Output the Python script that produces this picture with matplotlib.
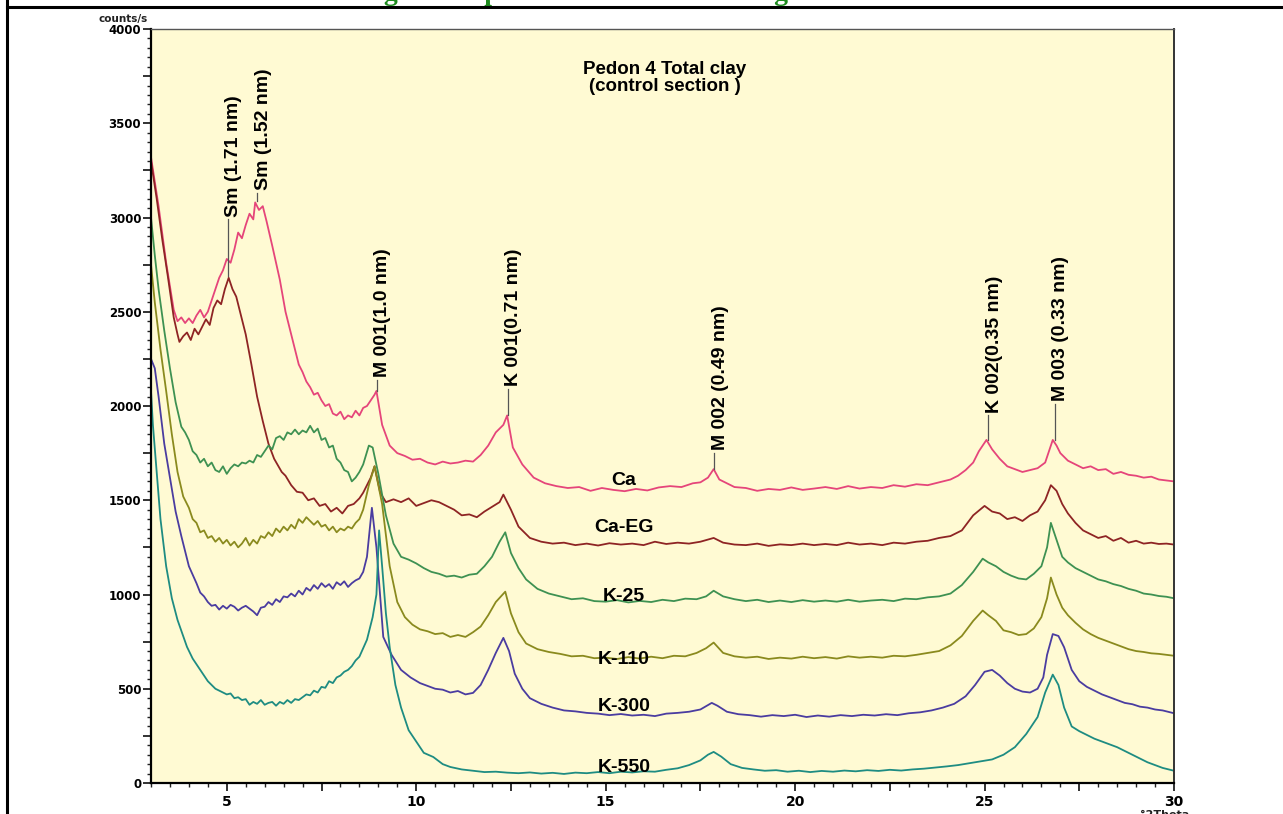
import numpy as np
import matplotlib
matplotlib.use("Agg")
import matplotlib.pyplot as plt
from matplotlib.ticker import MultipleLocator, FuncFormatter
from matplotlib.lines import Line2D

# two-theta (deg) / counts per second
ca_x = [3.0, 3.2, 3.4, 3.6, 3.7, 3.8, 3.9, 4.0, 4.1, 4.2, 4.3, 4.4, 4.5, 4.6, 4.7, 4.8, 4.9, 5.0, 5.1,
        5.2, 5.3, 5.4, 5.5, 5.6, 5.7, 5.75, 5.85, 5.95, 6.05, 6.2, 6.3, 6.4, 6.55, 6.7, 6.9, 7.0, 7.1,
        7.2, 7.3, 7.4, 7.5, 7.6, 7.7, 7.8, 7.9, 8.0, 8.1, 8.2, 8.3, 8.4, 8.5, 8.6, 8.7, 8.8, 8.9, 8.95,
        9.1, 9.3, 9.5, 9.7, 9.9, 10.1, 10.3, 10.5, 10.7, 10.9, 11.1, 11.3, 11.5, 11.7, 11.9, 12.1, 12.3,
        12.4, 12.55, 12.8, 13.1, 13.4, 13.7, 14.0, 14.3, 14.6, 14.9, 15.2, 15.5, 15.8, 16.1, 16.4, 16.7,
        17.0, 17.3, 17.5, 17.7, 17.85, 18.0, 18.2, 18.4, 18.7, 19.0, 19.3, 19.6, 19.9, 20.2, 20.5, 20.8,
        21.1, 21.4, 21.7, 22.0, 22.3, 22.6, 22.9, 23.2, 23.5, 23.8, 24.1, 24.3, 24.5, 24.7, 24.85, 25.05,
        25.2, 25.4, 25.6, 25.8, 26.0, 26.2, 26.4, 26.6, 26.7, 26.8, 26.9, 27.0, 27.2, 27.4, 27.6, 27.8,
        28.0, 28.2, 28.4, 28.6, 28.8, 29.0, 29.2, 29.4, 29.6, 29.8, 30.0]
ca_y = [3320, 3060, 2760, 2510, 2450, 2470, 2440, 2465, 2440, 2480, 2510, 2470, 2500, 2560, 2620, 2680,
        2720, 2780, 2760, 2830, 2920, 2890, 2960, 3020, 2990, 3080, 3040, 3060, 2980, 2850, 2760, 2670,
        2500, 2380, 2220, 2180, 2130, 2100, 2060, 2070, 2030, 2000, 2010, 1960, 1950, 1970, 1930, 1950,
        1940, 1975, 1950, 1990, 2000, 2030, 2060, 2080, 1900, 1790, 1750, 1735, 1715, 1720, 1700, 1690,
        1705, 1695, 1700, 1710, 1705, 1740, 1790, 1860, 1900, 1950, 1780, 1690, 1620, 1590, 1575, 1565,
        1570, 1550, 1565, 1555, 1548, 1560, 1552, 1568, 1575, 1570, 1590, 1595, 1620, 1665, 1610, 1590,
        1570, 1565, 1550, 1560, 1555, 1568, 1555, 1562, 1570, 1560, 1575, 1562, 1570, 1565, 1580, 1572,
        1585, 1580, 1595, 1610, 1630, 1660, 1700, 1760, 1820, 1770, 1720, 1680, 1665, 1650, 1660, 1670,
        1700, 1760, 1820, 1790, 1750, 1710, 1690, 1670, 1680, 1660, 1665, 1640, 1650, 1635, 1630, 1620,
        1625, 1610, 1605, 1600]

caeg_x = [3.0, 3.15, 3.3, 3.45, 3.6, 3.7, 3.75, 3.85, 3.95, 4.05, 4.15, 4.25, 4.35, 4.45, 4.55, 4.65, 4.75,
          4.85, 4.95, 5.05, 5.15, 5.25, 5.35, 5.5, 5.65, 5.8, 5.95, 6.1, 6.25, 6.45, 6.55, 6.7, 6.85, 7.0,
          7.15, 7.3, 7.45, 7.6, 7.75, 7.9, 8.05, 8.2, 8.35, 8.5, 8.6, 8.8, 8.9, 9.05, 9.2, 9.4, 9.6, 9.8,
          10.0, 10.2, 10.4, 10.6, 10.8, 11.0, 11.2, 11.4, 11.6, 11.8, 12.0, 12.2, 12.3, 12.5, 12.7, 13.0,
          13.3, 13.6, 13.9, 14.2, 14.5, 14.8, 15.1, 15.4, 15.7, 16.0, 16.3, 16.6, 16.9, 17.2, 17.5, 17.85,
          18.1, 18.4, 18.7, 19.0, 19.3, 19.6, 19.9, 20.2, 20.5, 20.8, 21.1, 21.4, 21.7, 22.0, 22.3, 22.6,
          22.9, 23.2, 23.5, 23.8, 24.1, 24.4, 24.7, 25.0, 25.2, 25.4, 25.6, 25.8, 26.0, 26.2, 26.4, 26.6,
          26.75, 26.9, 27.05, 27.2, 27.4, 27.6, 27.8, 28.0, 28.2, 28.4, 28.6, 28.8, 29.0, 29.2, 29.4, 29.6,
          29.8, 30.0]
caeg_y = [3300, 3100, 2880, 2680, 2470, 2380, 2340, 2370, 2390, 2350, 2410, 2380, 2420, 2460, 2430, 2520,
          2560, 2540, 2620, 2680, 2620, 2580, 2500, 2380, 2220, 2050, 1920, 1800, 1720, 1650, 1630, 1580,
          1545, 1540, 1500, 1510, 1470, 1480, 1440, 1460, 1430, 1470, 1480, 1510, 1540, 1620, 1680, 1540,
          1490, 1505, 1490, 1510, 1470, 1485, 1500, 1490, 1470, 1450, 1420, 1425, 1410, 1440, 1465, 1490,
          1530, 1450, 1360, 1300, 1280, 1270, 1275, 1262, 1270, 1260, 1272, 1265, 1270, 1262, 1280, 1268,
          1275, 1270, 1280, 1300, 1275, 1265, 1262, 1270, 1258, 1266, 1262, 1270, 1262, 1268, 1262, 1275,
          1265, 1270, 1262, 1275, 1270, 1280, 1285, 1300, 1310, 1340, 1420, 1470, 1440, 1430, 1400, 1410,
          1390, 1420, 1440, 1500, 1580, 1550, 1480, 1430, 1380, 1340, 1320, 1300, 1310, 1285, 1300, 1275,
          1285, 1270, 1275, 1268, 1270, 1265]

k25_x = [3.0, 3.1, 3.2, 3.35, 3.5, 3.65, 3.8, 3.9, 4.0, 4.1, 4.2, 4.3, 4.4, 4.5, 4.6, 4.7, 4.8, 4.9, 5.0,
         5.1, 5.2, 5.3, 5.4, 5.5, 5.6, 5.7, 5.8, 5.9, 6.0, 6.1, 6.2, 6.3, 6.4, 6.5, 6.6, 6.7, 6.8, 6.9,
         7.0, 7.1, 7.2, 7.3, 7.4, 7.5, 7.6, 7.7, 7.8, 7.9, 8.0, 8.1, 8.2, 8.3, 8.4, 8.5, 8.6, 8.75, 8.85,
         9.0, 9.2, 9.4, 9.6, 9.8, 10.0, 10.2, 10.4, 10.6, 10.8, 11.0, 11.2, 11.4, 11.6, 11.8, 12.0, 12.2,
         12.35, 12.5, 12.7, 12.9, 13.2, 13.5, 13.8, 14.1, 14.4, 14.7, 15.0, 15.3, 15.6, 15.9, 16.2, 16.5,
         16.8, 17.1, 17.4, 17.65, 17.85, 18.1, 18.4, 18.7, 19.0, 19.3, 19.6, 19.9, 20.2, 20.5, 20.8, 21.1,
         21.4, 21.7, 22.0, 22.3, 22.6, 22.9, 23.2, 23.5, 23.8, 24.1, 24.4, 24.7, 24.95, 25.1, 25.3, 25.5,
         25.7, 25.9, 26.1, 26.3, 26.5, 26.65, 26.75, 26.9, 27.05, 27.2, 27.4, 27.6, 27.8, 28.0, 28.2, 28.4,
         28.6, 28.8, 29.0, 29.2, 29.4, 29.6, 29.8, 30.0]
k25_y = [3000, 2800, 2620, 2400, 2200, 2020, 1890, 1860, 1820, 1760, 1740, 1700, 1720, 1680, 1700, 1660,
         1650, 1680, 1640, 1670, 1690, 1680, 1700, 1695, 1710, 1700, 1740, 1730, 1760, 1790, 1770, 1830,
         1840, 1820, 1860, 1850, 1875, 1850, 1870, 1860, 1895, 1860, 1880, 1820, 1830, 1780, 1790, 1720,
         1700, 1660, 1650, 1600, 1620, 1650, 1690, 1790, 1780, 1640, 1420, 1270, 1200, 1185, 1165, 1140,
         1120, 1110, 1095, 1100, 1090, 1105, 1110, 1150, 1200, 1280, 1330, 1220, 1140, 1080, 1030, 1005,
         990, 975, 980, 965, 962, 970, 958, 966, 960, 972, 965, 978, 975, 990, 1020, 990,
         975, 965, 972, 960, 968, 960, 970, 962, 968, 962, 972, 962, 968, 972, 965, 978,
         975, 985, 990, 1005, 1050, 1120, 1190, 1170, 1150, 1120, 1100, 1085, 1080, 1110, 1150, 1250,
         1380, 1290, 1200, 1170, 1140, 1120, 1100, 1080, 1070, 1055, 1045, 1030, 1020, 1005, 1000, 992,
         988, 980]

k110_x = [3.0, 3.1, 3.25, 3.4, 3.55, 3.7, 3.85, 4.0, 4.1, 4.2, 4.3, 4.4, 4.5, 4.6, 4.7, 4.8, 4.9, 5.0,
          5.1, 5.2, 5.3, 5.4, 5.5, 5.6, 5.7, 5.8, 5.9, 6.0, 6.1, 6.2, 6.3, 6.4, 6.5, 6.6, 6.7, 6.8, 6.9,
          7.0, 7.1, 7.2, 7.3, 7.4, 7.5, 7.6, 7.7, 7.8, 7.9, 8.0, 8.1, 8.2, 8.3, 8.4, 8.5, 8.6, 8.75, 8.9,
          9.1, 9.3, 9.5, 9.7, 9.9, 10.1, 10.3, 10.5, 10.7, 10.9, 11.1, 11.3, 11.5, 11.7, 11.9, 12.1, 12.35,
          12.5, 12.7, 12.9, 13.2, 13.5, 13.8, 14.1, 14.4, 14.7, 15.0, 15.3, 15.6, 15.9, 16.2, 16.5, 16.8,
          17.1, 17.4, 17.65, 17.85, 18.1, 18.4, 18.7, 19.0, 19.3, 19.6, 19.9, 20.2, 20.5, 20.8, 21.1, 21.4,
          21.7, 22.0, 22.3, 22.6, 22.9, 23.2, 23.5, 23.8, 24.1, 24.4, 24.7, 24.95, 25.1, 25.3, 25.5, 25.7,
          25.9, 26.1, 26.3, 26.5, 26.65, 26.75, 26.9, 27.05, 27.2, 27.4, 27.6, 27.8, 28.0, 28.2, 28.4, 28.6,
          28.8, 29.0, 29.2, 29.4, 29.6, 29.8, 30.0]
k110_y = [2750, 2550, 2300, 2080, 1850, 1650, 1520, 1460, 1400, 1380, 1330, 1340, 1300, 1310, 1280, 1300,
          1270, 1290, 1260, 1280, 1250, 1270, 1300, 1260, 1290, 1270, 1310, 1300, 1330, 1310, 1350, 1330,
          1360, 1340, 1370, 1350, 1400, 1380, 1410, 1390, 1370, 1390, 1360, 1370, 1340, 1360, 1330, 1350,
          1340, 1360, 1350, 1380, 1400, 1450, 1580, 1680, 1480, 1150, 960, 880, 840, 815, 805, 790, 795,
          775, 785, 775, 800, 830, 890, 960, 1015, 900, 800, 740, 710, 695, 685, 672, 675,
          662, 665, 658, 668, 660, 670, 662, 675, 672, 690, 715, 745, 690, 672, 665, 670,
          658, 665, 660, 670, 662, 668, 660, 672, 665, 670, 665, 675, 672, 680, 690, 700,
          730, 780, 860, 915, 890, 860, 810, 800, 785, 790, 820, 880, 980, 1090, 1000, 930,
          890, 850, 815, 790, 770, 755, 740, 725, 710, 700, 695, 688, 685, 680, 675]

k300_x = [3.0, 3.1, 3.2, 3.35, 3.5, 3.65, 3.8, 4.0, 4.2, 4.3, 4.4, 4.5, 4.6, 4.7, 4.8, 4.9, 5.0, 5.1,
          5.2, 5.3, 5.4, 5.5, 5.6, 5.7, 5.8, 5.9, 6.0, 6.1, 6.2, 6.3, 6.4, 6.5, 6.6, 6.7, 6.8, 6.9, 7.0,
          7.1, 7.2, 7.3, 7.4, 7.5, 7.6, 7.7, 7.8, 7.9, 8.0, 8.1, 8.2, 8.3, 8.4, 8.5, 8.6, 8.7, 8.83, 8.95,
          9.13, 9.35, 9.6, 9.85, 10.1, 10.3, 10.5, 10.7, 10.9, 11.1, 11.3, 11.5, 11.7, 11.9, 12.1, 12.3,
          12.45, 12.6, 12.8, 13.0, 13.3, 13.6, 13.9, 14.2, 14.5, 14.8, 15.1, 15.4, 15.7, 16.0, 16.3, 16.6,
          16.9, 17.2, 17.5, 17.8, 17.95, 18.2, 18.5, 18.8, 19.1, 19.4, 19.7, 20.0, 20.3, 20.6, 20.9, 21.2,
          21.5, 21.8, 22.1, 22.4, 22.7, 23.0, 23.3, 23.6, 23.9, 24.2, 24.5, 24.75, 25.0, 25.2, 25.4, 25.6,
          25.8, 26.0, 26.2, 26.4, 26.55, 26.65, 26.8, 26.95, 27.1, 27.3, 27.5, 27.7, 27.9, 28.1, 28.3, 28.5,
          28.7, 28.9, 29.1, 29.3, 29.5, 29.7, 30.0]
k300_y = [2250, 2200, 2050, 1800, 1620, 1440, 1310, 1150, 1060, 1010, 990, 960, 940, 945, 920, 940, 925,
          945, 935, 915, 930, 940, 925, 910, 890, 930, 935, 960, 945, 975, 960, 990, 985, 1005, 990, 1020,
          1000, 1035, 1020, 1050, 1030, 1060, 1040, 1055, 1030, 1065, 1050, 1070, 1040, 1060, 1075, 1085,
          1120, 1200, 1460, 1250, 775, 680, 600, 560, 530, 515, 500, 495, 480, 488, 470, 478, 520, 600, 690,
          770, 700, 580, 500, 450, 420, 400, 385, 380, 372, 368, 360, 366, 358, 362, 355, 368, 372, 378,
          390, 425, 410, 378, 365, 360, 352, 360, 355, 362, 350, 358, 352, 360, 355, 362, 358, 365, 360,
          370, 375, 385, 400, 420, 460, 520, 590, 600, 570, 530, 500, 485, 480, 500, 560, 680, 790, 780,
          720, 600, 540, 510, 490, 470, 455, 440, 425, 418, 405, 400, 390, 385, 370]

k550_x = [3.0, 3.05, 3.15, 3.25, 3.4, 3.55, 3.7, 3.95, 4.1, 4.3, 4.4, 4.5, 4.6, 4.7, 4.8, 4.9, 5.0, 5.1,
          5.2, 5.3, 5.4, 5.5, 5.6, 5.7, 5.8, 5.9, 6.0, 6.1, 6.2, 6.3, 6.4, 6.5, 6.6, 6.7, 6.8, 6.9, 7.0,
          7.1, 7.2, 7.3, 7.4, 7.5, 7.6, 7.7, 7.8, 7.9, 8.0, 8.1, 8.2, 8.3, 8.4, 8.5, 8.7, 8.85, 8.95, 9.02,
          9.1, 9.2, 9.3, 9.45, 9.6, 9.8, 10.0, 10.2, 10.45, 10.7, 10.9, 11.2, 11.5, 11.8, 12.1, 12.4, 12.7,
          13.0, 13.3, 13.6, 13.9, 14.2, 14.5, 14.8, 15.1, 15.4, 15.7, 16.0, 16.3, 16.6, 16.9, 17.2, 17.5,
          17.7, 17.85, 18.05, 18.3, 18.6, 18.9, 19.2, 19.5, 19.8, 20.1, 20.4, 20.7, 21.0, 21.3, 21.6, 21.9,
          22.2, 22.5, 22.8, 23.1, 23.4, 23.7, 24.0, 24.3, 24.6, 24.9, 25.2, 25.5, 25.8, 26.1, 26.4, 26.6,
          26.8, 26.95, 27.1, 27.3, 27.5, 27.7, 27.9, 28.1, 28.3, 28.5, 28.7, 28.9, 29.1, 29.3, 29.5, 29.7,
          30.0]
k550_y = [2080, 1900, 1650, 1400, 1150, 980, 865, 722, 660, 600, 570, 540, 520, 500, 490, 480, 470, 475,
          450, 455, 440, 445, 415, 430, 420, 440, 415, 425, 430, 410, 430, 420, 440, 425, 445, 440, 455,
          470, 465, 490, 480, 510, 505, 540, 530, 560, 570, 590, 600, 620, 650, 670, 760, 880, 1000, 1340,
          1150, 900, 720, 520, 400, 280, 220, 160, 138, 100, 85, 72, 65, 58, 60, 55, 52, 56, 50, 54, 48, 55,
          52, 58, 52, 60, 56, 62, 60, 70, 78, 95, 120, 150, 165, 140, 100, 80, 72, 65, 68, 60, 65, 58, 64,
          60, 66, 62, 68, 64, 70, 66, 72, 76, 82, 88, 95, 105, 115, 125, 150, 190, 260, 350, 480, 575,
          520, 400, 300, 275, 255, 235, 220, 205, 190, 170, 150, 130, 110, 95, 80, 65]

series_names = ["Ca", "Ca-EG", "K-25", "K-110", "K-300", "K-550"]
series_colors = ["#E5457A", "#8E2424", "#3E9152", "#8A8A1E", "#4A3CA0", "#1E8C82"]
name_pos_y = [1607, 1358, 987, 653, 408, 80]
name_pos_x = 15.48

peak_labels = ["Sm (1.71 nm)", "Sm (1.52 nm)", "M 001(1.0 nm)", "K 001(0.71 nm)",
               "M 002 (0.49 nm)", "K 002(0.35 nm)", "M 003 (0.33 nm)"]
peak_x = [5.04, 5.8, 8.97, 12.41, 17.86, 25.1, 26.85]
peak_base = [2690, 3090, 2080, 1950, 1665, 1820, 1820]
peak_top = [2990, 3130, 2140, 2090, 1750, 1950, 2010]
label_x = [5.17, 5.97, 9.12, 12.56, 18.02, 25.26, 27.01]

fig = plt.figure(figsize=(12.83, 8.14), dpi=100)
ax = fig.add_axes([151 / 1283, 31 / 814, 1023 / 1283, 754 / 814])
ax.set_facecolor("#FFFAD3")

xs = [ca_x, caeg_x, k25_x, k110_x, k300_x, k550_x]
ys = [ca_y, caeg_y, k25_y, k110_y, k300_y, k550_y]
for x, y, c in zip(xs, ys, series_colors):
    ax.plot(x, y, color=c, lw=1.3)

bold = dict(fontweight="bold", family=["Liberation Sans", "DejaVu Sans"])
for name, yy in zip(series_names, name_pos_y):
    ax.text(name_pos_x, yy, name, ha="center", va="center", fontsize=14, **bold)

for lab, px, pb, pt, lx in zip(peak_labels, peak_x, peak_base, peak_top, label_x):
    ax.plot([px, px], [pb, pt], color="#555555", lw=0.9)
    ax.text(lx, pt + 15, lab, rotation=90, ha="center", va="bottom", fontsize=14, **bold)

ax.text(16.55, 3740, "Pedon 4 Total clay\n(control section )", ha="center", va="center",
        fontsize=13.5, linespacing=1.0, **bold)

ax.set_xlim(3, 30)
ax.set_ylim(0, 4000)
ax.xaxis.set_major_locator(MultipleLocator(2.5))
ax.xaxis.set_minor_locator(MultipleLocator(0.5))
ax.yaxis.set_major_locator(MultipleLocator(250))
ax.yaxis.set_minor_locator(MultipleLocator(50))
ax.xaxis.set_major_formatter(FuncFormatter(lambda v, p: "%d" % v if v % 5 == 0 and v > 3 else ""))
ax.yaxis.set_major_formatter(FuncFormatter(lambda v, p: "%d" % v if v % 500 == 0 else ""))
ax.tick_params(axis="both", which="major", direction="out", length=6, width=1.3, color="#222222")
ax.tick_params(axis="both", which="minor", direction="out", length=3, width=1.0, color="#222222")
ax.tick_params(axis="x", pad=3)
ax.tick_params(axis="y", pad=1)
for t in ax.get_xticklabels():
    t.set_fontsize(10)
    t.set_fontweight("bold")
for t in ax.get_yticklabels():
    t.set_fontsize(8.5)
    t.set_fontweight("bold")

ax.spines["left"].set_linewidth(1.6)
ax.spines["bottom"].set_linewidth(1.6)
ax.spines["right"].set_linewidth(1.4)
ax.spines["right"].set_color("#333333")
ax.spines["top"].set_linewidth(1.0)
ax.spines["top"].set_color("#555555")

fig.text(148 / 1283, 1 - 19 / 814, "counts/s", ha="right", va="center", fontsize=7.5,
         fontweight="bold", color="#222222")
fig.text(1140 / 1283, 4 / 814, "\u00b02Theta", ha="left", va="top", fontsize=8,
         fontweight="bold", color="#222222")

# caption of the page, only its lower edge is visible
fig.text(276 / 1283, 1.0, "Diffractogram of peaks in Pedon 4 showing", ha="left", va="baseline",
         fontsize=20, fontweight="bold", color="#1E8A1E", family="Liberation Serif")

# table borders around the figure
fig.add_artist(Line2D([7 / 1283, 1], [1 - 7 / 814, 1 - 7 / 814], color="black", lw=2.2))
fig.add_artist(Line2D([7 / 1283, 7 / 1283], [0, 1], color="black", lw=2.2))

fig.savefig("out.png", dpi=100, facecolor="white")
